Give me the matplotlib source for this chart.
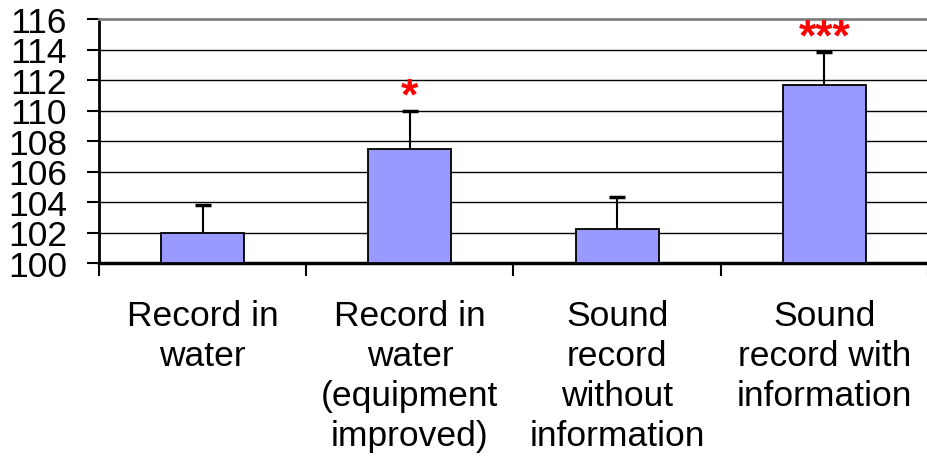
import matplotlib
matplotlib.use("Agg")
import matplotlib.pyplot as plt
import numpy as np

plt.rcParams['font.family'] = ['Liberation Sans', 'DejaVu Sans']

categories = ["Record in\nwater", "Record in\nwater\n(equipment\nimproved)",
              "Sound\nrecord\nwithout\ninformation", "Sound\nrecord with\ninformation"]
values = [102.0, 107.5, 102.2, 111.7]
errors = [1.8, 2.5, 2.1, 2.15]
stars = ["", "*", "", "***"]
yticks = [100, 102, 104, 106, 108, 110, 112, 114, 116]

fig = plt.figure(figsize=(9.28, 4.6), dpi=100)
ax = fig.add_axes([99/928, 1-264/460, 1-99/928, (264-20)/460])

x = np.arange(len(categories))
tops = np.array(values) + np.array(errors)
ax.bar(x, [v - 100 for v in values], bottom=100, width=0.4, color='#9999FF',
       edgecolor='black', linewidth=1.3, zorder=3)
ax.vlines(x, values, tops, color='black', linewidth=1.5, zorder=4)
ax.plot(x, tops, linestyle='none', marker='_', markersize=12,
        markeredgewidth=2.5, color='black', zorder=4)

for t in yticks[1:-1]:
    ax.axhline(t, color='black', linewidth=1.0, zorder=1)

for xi, tp, s in zip(x, tops, stars):
    if s:
        ax.text(xi, tp + 0.15, s, color='red', fontsize=32, fontweight='bold',
                ha='center', va='baseline', zorder=5)

ax.set_ylim(100, 116)
ax.set_xlim(-0.5, 3.5)
ax.set_yticks(yticks)
ax.set_yticklabels([str(t) for t in yticks], fontsize=25.5)
ax.tick_params(axis='y', direction='out', length=9, width=1.5, pad=14)

ax.set_xticks(np.arange(-0.5, 3.6, 1.0))
ax.set_xticklabels([])
ax.tick_params(axis='x', which='major', direction='out', length=9, width=1.5)
ax.set_xticks(x, minor=True)
ax.set_xticklabels(categories, minor=True, fontsize=25.5, ha='center', va='top',
                   linespacing=1.27)
ax.tick_params(axis='x', which='minor', length=0, pad=26)

ax.spines['right'].set_visible(False)
ax.spines['top'].set_color('#808080')
ax.spines['top'].set_linewidth(2)
ax.spines['left'].set_linewidth(2)
ax.spines['bottom'].set_linewidth(2.5)

fig.savefig("out.png", dpi=100)
